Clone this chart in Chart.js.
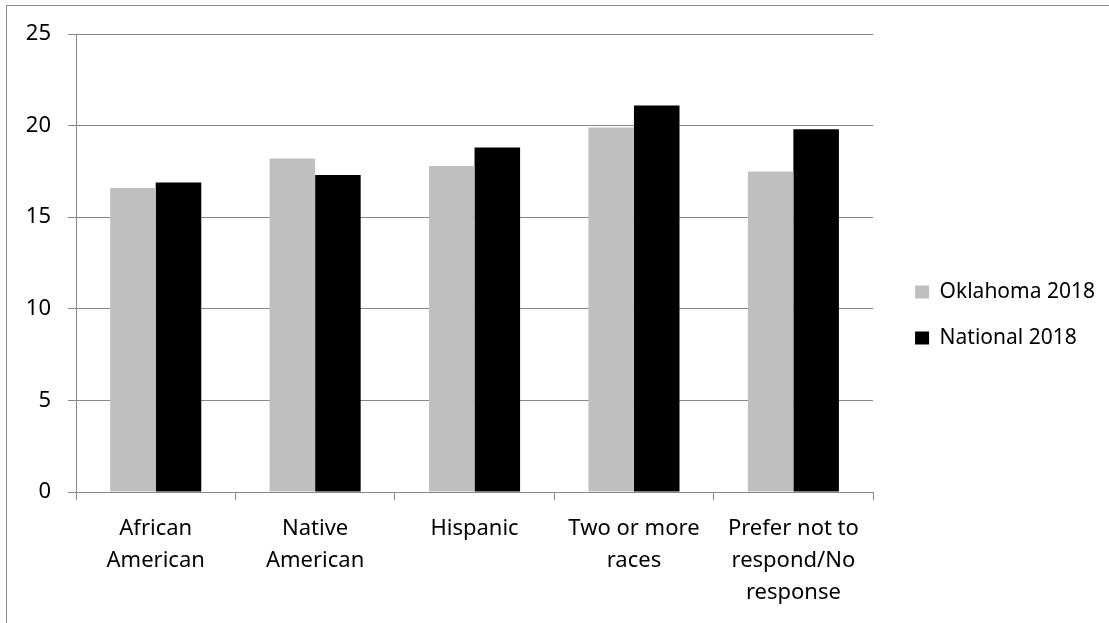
<!DOCTYPE html>
<html>
<head>
<meta charset="utf-8">
<script src="https://cdn.jsdelivr.net/npm/chart.js@4.4.0/dist/chart.umd.min.js"></script>
<style>
  html, body { margin: 0; padding: 0; background: #fff; overflow: hidden; }
  #frame { position: absolute; left: 6px; top: 5px; width: 1200px; height: 700px;
           border-left: 1px solid #8c8c8c; border-top: 1px solid #8c8c8c; }
  #wrap { position: absolute; left: 0; top: 0; width: 1109px; height: 623px; }
</style>
</head>
<body>
<div id="frame"></div>
<div id="wrap"><canvas id="chart"></canvas></div>
<script>
// Chart data
var categories = [['African', 'American'], ['Native', 'American'], 'Hispanic', ['Two or more', 'races'], ['Prefer not to', 'respond/No', 'response']];
var oklahoma2018 = [16.6, 18.2, 17.8, 19.9, 17.5];
var national2018 = [16.9, 17.3, 18.8, 21.1, 19.8];
var yTicks = [0, 5, 10, 15, 20, 25];

var gridColor = '#878787';
var tickFont = { family: 'Noto Sans', size: 22, lineHeight: 1.45 };

var ctx = document.getElementById('chart').getContext('2d');
var chart = new Chart(ctx, {
    type: 'bar',
    data: {
        labels: categories,
        datasets: [{
            label: 'Oklahoma 2018',
            data: oklahoma2018,
            backgroundColor: '#bfbfbf',
            categoryPercentage: 2 / 3.5,
            barPercentage: 1
        }, {
            label: 'National 2018',
            data: national2018,
            backgroundColor: '#000000',
            categoryPercentage: 2 / 3.5,
            barPercentage: 1
        }]
    },
    options: {
        responsive: true,
        maintainAspectRatio: false,
        animation: false,
        layout: { padding: { top: 7, right: 4, bottom: 0, left: 0 } },
        plugins: {
            tooltip: { enabled: false },
            legend: {
                position: 'right',
                maxWidth: 400,
                labels: {
                    boxWidth: 14,
                    boxHeight: 13,
                    padding: 25,
                    color: '#000',
                    font: { family: 'Noto Sans', size: 21 }
                }
            }
        },
        scales: {
            x: {
                grid: { drawOnChartArea: false, drawTicks: true, tickLength: 8, color: gridColor, offset: true },
                border: { color: gridColor },
                ticks: { color: '#000', font: tickFont, padding: 13, maxRotation: 0, autoSkip: false },
                afterFit: function (s) { s.height = 131; }
            },
            x2: {
                type: 'category',
                position: 'top',
                display: true,
                grid: { display: false },
                border: { display: false },
                ticks: { display: false },
                afterFit: function (s) { s.height = 27; }
            },
            y: {
                min: 0,
                max: 25,
                afterBuildTicks: function (s) { s.ticks = yTicks.map(function (v) { return { value: v }; }); },
                grid: { color: gridColor, tickLength: 8 },
                border: { color: gridColor },
                ticks: { color: '#000', font: tickFont, padding: 17 },
                afterFit: function (s) { s.width = 76; }
            },
            y2: {
                position: 'right',
                display: true,
                grid: { display: false },
                border: { display: false },
                ticks: { display: false },
                afterFit: function (s) { s.width = 17; }
            }
        }
    }
});
</script>
</body>
</html>
